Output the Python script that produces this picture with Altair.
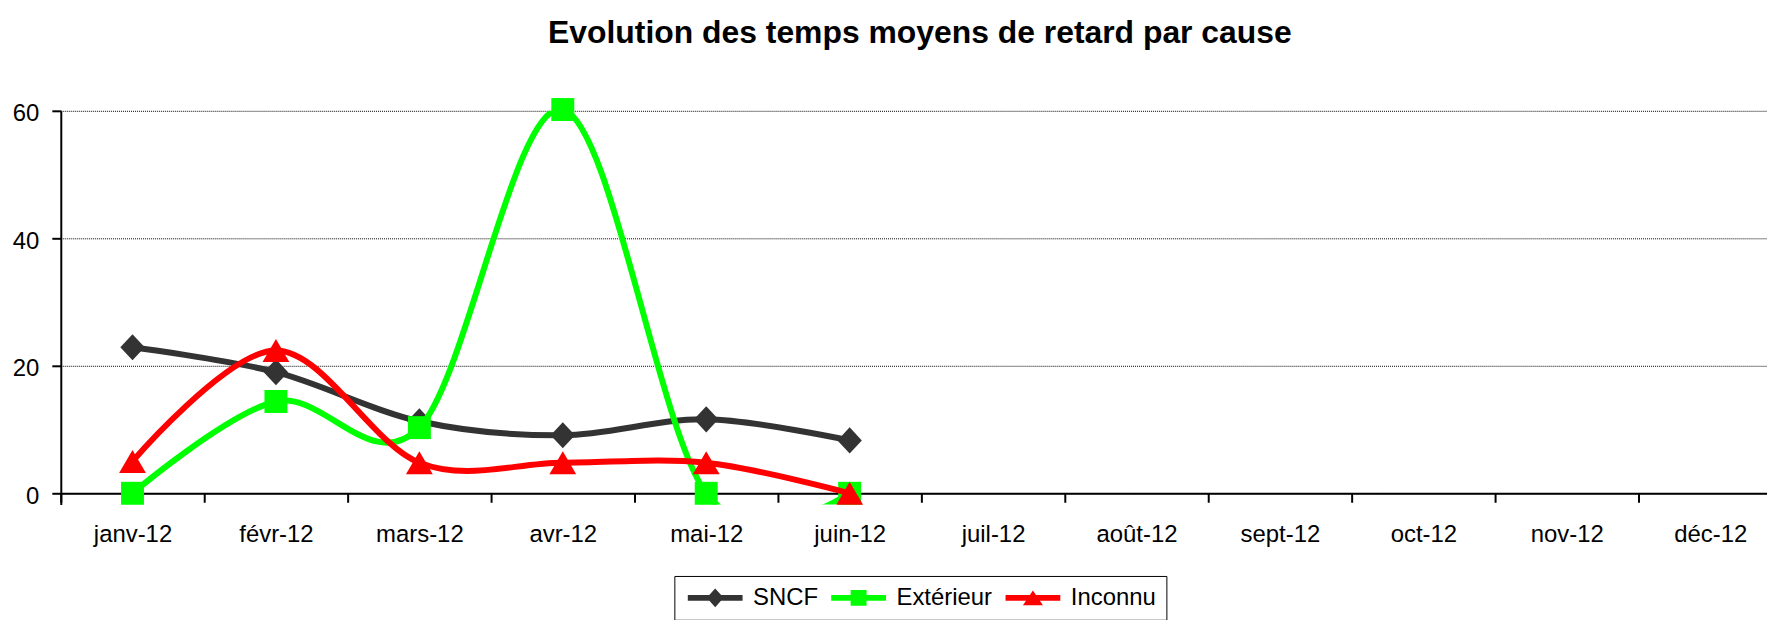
import altair as alt
import pandas as pd

# ---------------- data ----------------
mois = ["janv-12", "févr-12", "mars-12", "avr-12", "mai-12", "juin-12",
        "juil-12", "août-12", "sept-12", "oct-12", "nov-12", "déc-12"]
series = ["SNCF", "Extérieur", "Inconnu"]
couleurs = ["#333333", "#00ff00", "#ff0000"]
sncf = [22.9, 19.0, 11.3, 9.1, 11.6, 8.3]
exterieur = [0.0, 14.4, 10.3, 60.2, 0.0, 0.0]
inconnu = [5.0, 22.4, 4.8, 4.8, 4.8, 0.0]
y_ticks = [0, 20, 40, 60]
titre = "Evolution des temps moyens de retard par cause"

rows = []
for name, vals in zip(series, [sncf, exterieur, inconnu]):
    for i, v in enumerate(vals):
        rows.append({"mois": mois[i], "idx": i + 1, "serie": name, "valeur": v})
df = pd.DataFrame(rows)

# ---------------- layout / style ----------------
FONT = "Liberation Sans"
PLOT_W = 1713
PX_PER_UNIT = 6.4          # vertical pixels per minute
CLIP_BELOW = 11.3          # the plot frame reaches a little below the 0 axis
Y_TOP = 60
y_bottom = -CLIP_BELOW / PX_PER_UNIT
PLOT_H = (Y_TOP - y_bottom) * PX_PER_UNIT
BAND = 144.0
n = len(mois)
x_min = 0.5
x_max = 0.5 + PLOT_W / BAND  # the last category is cut by the frame, as in the reference

x_ticks = [i + 0.5 for i in range(n)]
x_centres = [i + 1 for i in range(n)]
label_expr = ("datum.value % 1 === 0 ? [" + ",".join("'" + m + "'" for m in mois)
              + "][datum.value - 1] : ''")


def poly(points):
    return "M" + "L".join(f"{x:.3f},{y:.3f}" for x, y in points) + "Z"


# chart markers (unit square -1..1)
marker_paths = [
    poly([(0, -1.07), (1, 0), (0, 1.07), (-1, 0)]),
    poly([(-0.94, -0.94), (0.94, -0.94), (0.94, 0.94), (-0.94, 0.94)]),
    poly([(0, -0.94), (1.1, 0.94), (-1.1, 0.94)]),
]

# legend symbols: line segment + marker
cx = 2.235
line_rect = poly([(-1, -0.35), (5.47, -0.35), (5.47, 0.35), (-1, 0.35)])
legend_paths = [
    line_rect + poly([(cx, -1.1), (cx + 1.0, 0), (cx, 1.1), (cx - 1.0, 0)]),
    line_rect + poly([(cx - 0.94, -0.94), (cx + 0.94, -0.94), (cx + 0.94, 0.94), (cx - 0.94, 0.94)]),
    line_rect + poly([(cx, -0.88), (cx + 1.18, 0.88), (cx - 1.18, 0.88)]),
]

x_axis = alt.Axis(
    values=x_ticks + x_centres, labelExpr=label_expr, title=None, grid=False,
    tickSize=9, tickWidth=2, tickColor="black",
    tickOpacity={"condition": {"test": "datum.value % 1 === 0", "value": 0}, "value": 1},
    domainColor="black", domainWidth=2, offset=-CLIP_BELOW,
    labelFont=FONT, labelFontSize=24, labelColor="black", labelPadding=20,
    labelOverlap=False, labelFlush=False, labelBound=False,
)
y_axis = alt.Axis(
    values=y_ticks, title=None, grid=True, gridColor="black", gridDash=[1, 1], gridWidth=1,
    tickSize=9, tickWidth=2, tickColor="black", domainColor="black", domainWidth=2,
    labelFont=FONT, labelFontSize=24, labelColor="black", labelPadding=13, labelOffset=3,
)

base = alt.Chart(df).encode(
    x=alt.X("idx:Q", scale=alt.Scale(domain=[x_min, x_max], nice=False, zero=False), axis=x_axis),
    y=alt.Y("valeur:Q", scale=alt.Scale(domain=[y_bottom, Y_TOP], nice=False, zero=False), axis=y_axis),
)

# one line + its markers per series, drawn in series order (as in the original)
layers = []
for s, col, path in zip(series, couleurs, marker_paths):
    sub = base.transform_filter(alt.datum.serie == s)
    layers.append(sub.mark_line(interpolate="cardinal", strokeWidth=6, clip=True, color=col))
    layers.append(sub.mark_point(filled=True, size=600, opacity=1, shape=path, color=col))

leg = alt.Legend(
    title=None, orient="none", legendX=616, legendY=467, direction="horizontal",
    labelFont=FONT, labelFontSize=24, labelColor="black", labelOffset=45,
    symbolSize=289, symbolStrokeWidth=0, symbolOpacity=1,
    columnPadding=9, padding=10, strokeColor="black", fillColor="white",
)

# invisible layer that only carries the legend (fill + shape on the series)
legend_layer = base.mark_point(filled=True, size=289, opacity=0, strokeWidth=0).encode(
    fill=alt.Fill("serie:N", scale=alt.Scale(domain=series, range=couleurs), legend=leg),
    shape=alt.Shape("serie:N", scale=alt.Scale(domain=series, range=legend_paths), legend=leg),
)
layers.append(legend_layer)

chart = (
    alt.layer(*layers)
    .properties(
        width=PLOT_W, height=PLOT_H,
        padding={"left": 4, "top": 8, "right": 0, "bottom": 0},
        title=alt.TitleParams(titre, font=FONT, fontSize=32, fontWeight="bold", color="black",
                              anchor="middle", offset=48, dx=6),
    )
    .configure_view(stroke=None)
    .configure_legend(strokeWidth=1)
)

chart.save("out.html", embed_options={"renderer": "svg", "actions": False})
